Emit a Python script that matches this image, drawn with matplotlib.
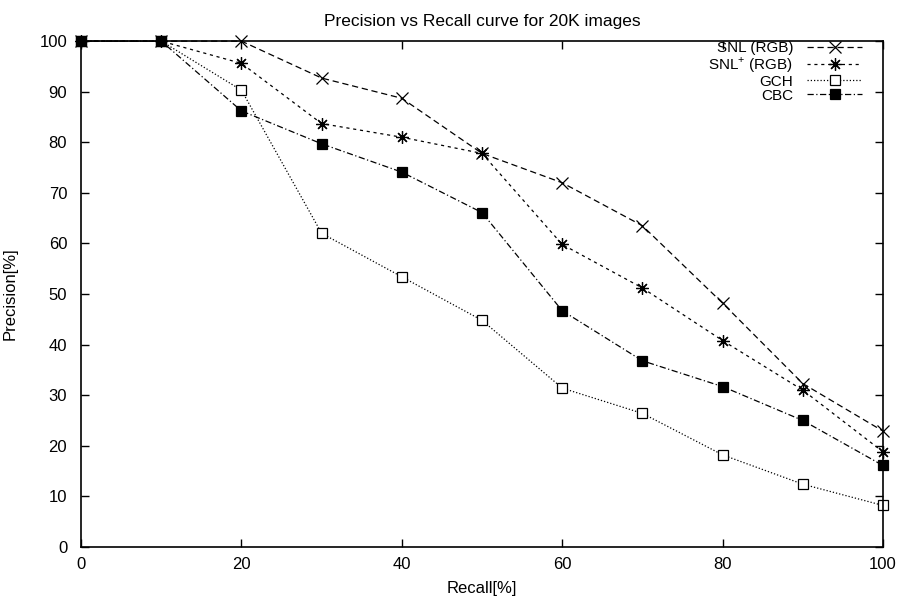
import numpy as np
import matplotlib
matplotlib.use("Agg")
import matplotlib.pyplot as plt

plt.rcParams["font.family"] = ["Liberation Sans", "DejaVu Sans"]
plt.rcParams["mathtext.fontset"] = "custom"
plt.rcParams["mathtext.rm"] = "Liberation Sans"

recall = [0, 10, 20, 30, 40, 50, 60, 70, 80, 90, 100]
snl_rgb = [100, 100, 100, 92.7, 88.7, 77.8, 72.0, 63.5, 48.2, 32.3, 22.9]
snl_plus_rgb = [100, 100, 95.6, 83.7, 81.0, 77.8, 59.8, 51.2, 40.8, 31.0, 18.8]
gch = [100, 100, 90.3, 62.0, 53.4, 44.8, 31.4, 26.4, 18.2, 12.4, 8.2]
cbc = [100, 100, 86.2, 79.7, 74.1, 66.1, 46.7, 36.8, 31.7, 25.0, 16.1]

labels = ["SNL (RGB)", "SNL$^{+}$ (RGB)", "GCH", "CBC"]

fig = plt.figure(figsize=(9.01, 6.05), dpi=100)
ax = fig.add_axes([0.09, 0.096, 0.89, 0.836])

lw = 0.9
ax.plot(recall, snl_rgb, color="black", lw=lw, dashes=(5, 3),
        marker="x", ms=8, mew=0.9, clip_on=False, label=labels[0])
ax.plot(recall, snl_plus_rgb, color="black", lw=lw, dashes=(2.5, 3),
        marker=(8, 2, 0), ms=9, mew=0.9, clip_on=False, label=labels[1])
ax.plot(recall, gch, color="black", lw=lw, dashes=(1, 1.6),
        marker="s", ms=7, mfc="white", mew=0.9, clip_on=False, label=labels[2])
ax.plot(recall, cbc, color="black", lw=lw, dashes=(5, 2, 1, 2),
        marker="s", ms=7, mfc="black", mew=0.9, clip_on=False, label=labels[3])

ax.set_xlim(0, 100)
ax.set_ylim(0, 100)
ax.set_xticks(np.arange(0, 101, 20))
ax.set_yticks(np.arange(0, 101, 10))
ax.tick_params(direction="in", length=6, width=1, top=True, right=True,
               labelsize=12)
ax.tick_params(axis="x", pad=7)
ax.tick_params(axis="y", pad=10)
for s in ax.spines.values():
    s.set_linewidth(1.2)

ax.set_title("Precision vs Recall curve for 20K images", fontsize=12.5, pad=11)
ax.set_xlabel("Recall[%]", fontsize=12, labelpad=7)
ax.set_ylabel("Precision[%]", fontsize=12, labelpad=16)

# markerfirst=False right-aligns the entries, so labels end next to the lines
ax.legend(loc="upper right", bbox_to_anchor=(0.974, 1.0), frameon=False,
          markerfirst=False, fontsize=11, handlelength=3.6,
          handletextpad=0.9, labelspacing=0.0, borderaxespad=0,
          borderpad=0)

fig.savefig("out.png", dpi=100)
